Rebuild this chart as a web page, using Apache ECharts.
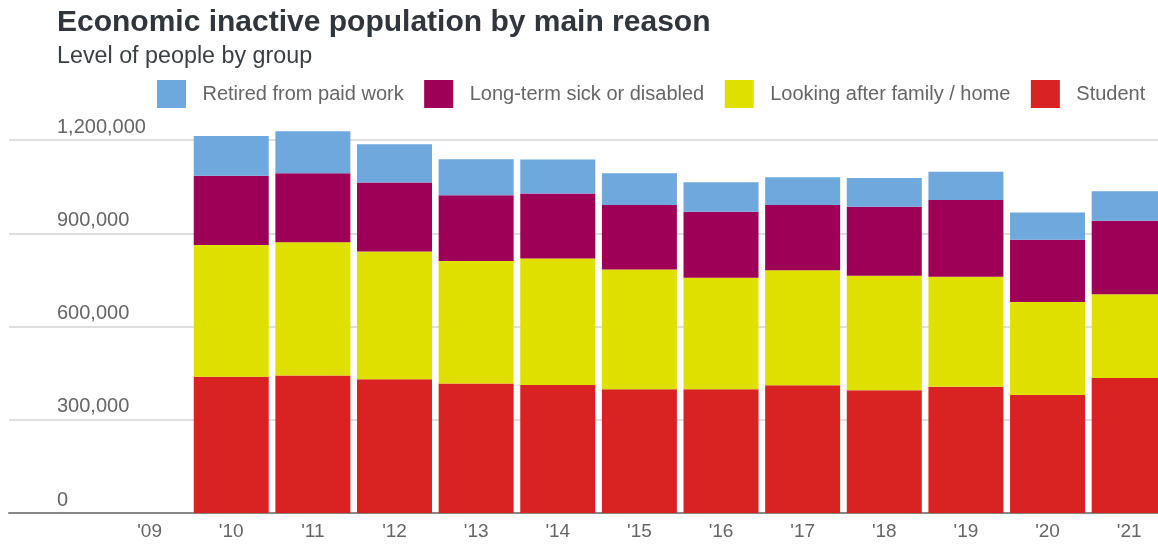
<!DOCTYPE html>
<html>
<head>
<meta charset="utf-8">
<title>Economic inactive population by main reason</title>
<script src="https://cdn.jsdelivr.net/npm/echarts@6/dist/echarts.min.js"></script>
<style>
  html, body { margin: 0; padding: 0; background: #ffffff; }
  #chart { width: 1158px; height: 545px; }
</style>
</head>
<body>
<div id="chart"></div>
<script>
// Years on the category axis ('09 has no published breakdown)
const years = ["'09", "'10", "'11", "'12", "'13", "'14", "'15", "'16", "'17", "'18", "'19", "'20", "'21"];

// Level of people by main reason for inactivity
const student  = [null, 438000, 442000, 430000, 417000, 412000, 398000, 398000, 411000, 395000, 406000, 380000, 434000];
const family   = [null, 424000, 429000, 411000, 394000, 407000, 385000, 359000, 370000, 368000, 354000, 299000, 270000];
const sick     = [null, 223000, 222000, 222000, 211000, 209000, 208000, 212000, 210000, 222000, 247000, 200000, 236000];
const retired  = [null, 128000, 135000, 123000, 116000, 109000, 102000,  95000,  89000,  93000,  91000,  88000,  95000];

// Value axis ticks
const yMin = 0, yMax = 1200000, yStep = 300000;

const FONT = "'Liberation Sans', Arial, Helvetica, sans-serif";
const COLORS = {
  retired: '#6fa8dc',
  sick: '#9e0057',
  family: '#dfe000',
  student: '#d92323'
};

function withCommas(v) {
  return String(Math.round(v)).replace(/\B(?=(\d{3})+(?!\d))/g, ',');
}

const chart = echarts.init(document.getElementById('chart'), null, { renderer: 'canvas' });

const barBase = {
  type: 'bar',
  stack: 'total',
  xAxisIndex: 1,
  yAxisIndex: 1,
  barWidth: 75,
  clip: false,
  emphasis: { disabled: true }
};

chart.setOption({
  animation: false,
  backgroundColor: '#ffffff',
  textStyle: { fontFamily: FONT },
  title: [
    {
      text: 'Economic inactive population by main reason',
      left: 52,
      top: 3,
      textStyle: { fontFamily: FONT, fontSize: 30, fontWeight: 'bold', color: '#30363c' }
    },
    {
      text: 'Level of people by group',
      left: 52,
      top: 40,
      textStyle: { fontFamily: FONT, fontSize: 23.3, fontWeight: 'normal', color: '#3a3f44' }
    }
  ],
  legend: {
    left: 152,
    top: 75,
    itemWidth: 29,
    itemHeight: 28,
    itemGap: 20.5,
    icon: 'rect',
    selectedMode: false,
    data: ['Retired from paid work', 'Long-term sick or disabled', 'Looking after family / home', 'Student'],
    textStyle: { fontFamily: FONT, fontSize: 20, color: '#666666', padding: [0, 0, 0, 11.5] }
  },
  grid: [
    // frame for the value axis, gridlines and baseline
    { left: 9, right: 0, top: 140, bottom: 32, outerBoundsMode: 'none' },
    // category band for the bars; the last year runs past the right edge
    { left: 108.8, right: -12, top: 140, bottom: 32, outerBoundsMode: 'none' }
  ],
  xAxis: [
    {
      gridIndex: 0,
      type: 'value',
      min: 0,
      max: 1,
      axisLine: { show: true, onZero: false, lineStyle: { color: '#888888', width: 2 } },
      axisTick: { show: false },
      axisLabel: { show: false },
      splitLine: { show: false }
    },
    {
      gridIndex: 1,
      type: 'category',
      data: years,
      axisLine: { show: false },
      axisTick: { show: false },
      axisLabel: { fontFamily: FONT, fontSize: 19, color: '#666666', margin: 9 },
      splitLine: { show: false }
    }
  ],
  yAxis: [
    {
      gridIndex: 0,
      type: 'value',
      min: yMin,
      max: yMax,
      interval: yStep,
      axisLine: { show: false },
      axisTick: { show: false },
      axisLabel: {
        inside: true,
        margin: 48,
        align: 'left',
        verticalAlign: 'bottom',
        padding: [0, 0, 3, 0],
        fontFamily: FONT,
        fontSize: 20,
        color: '#666666',
        formatter: withCommas
      },
      splitLine: { show: true, lineStyle: { color: '#dedede', width: 2 } }
    },
    {
      gridIndex: 1,
      type: 'value',
      min: yMin,
      max: yMax,
      interval: yStep,
      show: false,
      splitLine: { show: false }
    }
  ],
  series: [
    Object.assign({}, barBase, { name: 'Student', data: student, itemStyle: { color: COLORS.student } }),
    Object.assign({}, barBase, { name: 'Looking after family / home', data: family, itemStyle: { color: COLORS.family } }),
    Object.assign({}, barBase, { name: 'Long-term sick or disabled', data: sick, itemStyle: { color: COLORS.sick } }),
    Object.assign({}, barBase, { name: 'Retired from paid work', data: retired, itemStyle: { color: COLORS.retired } })
  ]
});
</script>
</body>
</html>
